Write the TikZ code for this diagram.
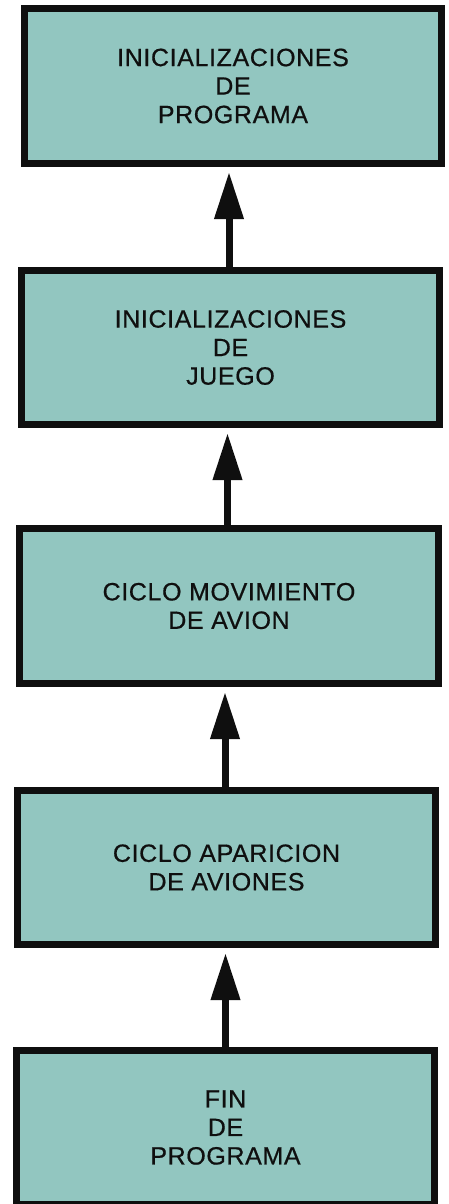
\documentclass[tikz,border=0pt]{standalone}
\usepackage{fontspec}
\setmainfont{Liberation Sans}
\newfontfamily\boxfont[LetterSpace=2.5,FakeBold=0.6]{Liberation Sans}
\usetikzlibrary{arrows.meta}
\definecolor{boxfill}{RGB}{146,198,192}
\definecolor{ink}{RGB}{15,15,15}
\tikzset{
  stepbox/.style={draw=ink, line width=7pt, fill=boxfill, rectangle,
    minimum width=418pt, minimum height=154pt, inner sep=0pt, align=center,
    text=ink, font=\boxfont\fontsize{25}{28.5}\selectfont},
  uparrow/.style={draw=ink, line width=7pt,
    -{Triangle[length=47pt,width=28pt]}, shorten >=5pt}
}
\begin{document}
\begin{tikzpicture}[x=1pt,y=-1pt]
\useasboundingbox (0,0) rectangle (449,1204);
\clip (0,0) rectangle (449,1204);
\fill[white] (0,0) rectangle (449,1204);
\node[stepbox, minimum width=417pt, minimum height=155pt] (b1) at (233,86) {INICIALIZACIONES\\DE\\PROGRAMA};
\node[stepbox] (b2) at (230.5,347.5) {INICIALIZACIONES\\DE\\JUEGO};
\node[stepbox, minimum width=419pt, minimum height=155pt] (b3) at (229,606) {CICLO MOVIMIENTO\\DE AVION};
\node[stepbox] (b4) at (226.5,867.5) {CICLO APARICION\\DE AVIONES};
\node[stepbox] (b5) at (225.5,1127.5) {FIN\\DE\\PROGRAMA};
\draw[uparrow] ([xshift=-1.5pt]b2.north) -- ([xshift=-1.5pt]b2.north |- b1.south);
\draw[uparrow] ([xshift=-1.5pt]b3.north) -- ([xshift=-1.5pt]b3.north |- b2.south);
\draw[uparrow] ([xshift=-1.5pt]b4.north) -- ([xshift=-1.5pt]b4.north |- b3.south);
\draw[uparrow] ([xshift=0pt]b5.north) -- ([xshift=0pt]b5.north |- b4.south);
\end{tikzpicture}
\end{document}
